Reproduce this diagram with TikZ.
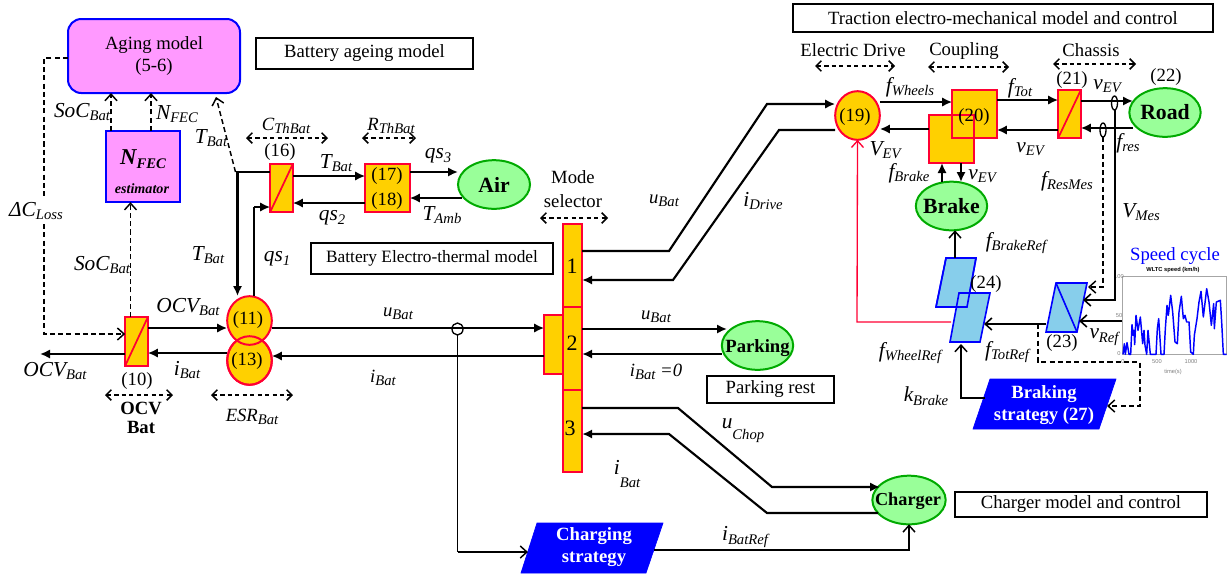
\documentclass[tikz,border=0pt]{standalone}
\usepackage{fontspec}
\setmainfont{Liberation Serif}
\newfontfamily\plotfont{Liberation Sans}
\usetikzlibrary{arrows.meta,shapes.geometric}
\definecolor{gold}{HTML}{FFD000}
\definecolor{redl}{HTML}{FF0033}
\definecolor{pinkf}{HTML}{FF99FF}
\definecolor{greenf}{HTML}{99FF99}
\definecolor{greenl}{HTML}{00AA00}
\definecolor{skyf}{HTML}{87CEEB}
\newcommand{\lb}[2]{\textit{#1\raisebox{-.35ex}{\fontsize{11}{12}\selectfont #2}}}
\tikzset{
 tx/.style={inner sep=0,font=\fontsize{14}{16}\selectfont},
 lab/.style={inner sep=0,font=\fontsize{16}{18}\selectfont},
 labs/.style={inner sep=0,font=\fontsize{14}{16}\selectfont},
 bld/.style={inner sep=0,font=\fontsize{15}{17}\selectfont\bfseries},
 tbox/.style={draw=black,line width=1.2pt,fill=white,inner sep=0,font=\fontsize{14}{16}\selectfont},
 ybox/.style={draw=redl,fill=gold,line width=1.5pt,inner sep=0,outer sep=0},
 yell/.style={ellipse,draw=redl,fill=gold,line width=1.5pt,inner sep=0,outer sep=0},
 gell/.style={ellipse,draw=greenl,fill=greenf,line width=1.5pt,inner sep=0,outer sep=0},
 gtxt/.style={inner sep=0,font=\fontsize{16.3}{18}\selectfont\bfseries},
 pbox/.style={draw=blue,fill=pinkf,line width=1.5pt,inner sep=0,outer sep=0},
 sky/.style={draw=blue,fill=skyf,line width=1.2pt,line join=miter},
 strat/.style={fill=blue,draw=blue,line width=.5pt},
 stratt/.style={inner sep=0,text=white,align=center,font=\fontsize{14}{17}\selectfont\bfseries},
 main/.style={line width=1.6pt,-{Latex[length=7.5pt,width=7pt]}},
 plain/.style={line width=1.6pt},
 thin/.style={line width=1.1pt,-{Straight Barb[length=5pt,width=9pt]}},
 dsh/.style={line width=1.1pt,dash pattern=on 3.8pt off 2.4pt,-{Straight Barb[length=5pt,width=9pt]}},
 dbl/.style={line width=1.1pt,dash pattern=on 3.2pt off 2.4pt,{Straight Barb[length=4pt,width=8pt]}-{Straight Barb[length=4pt,width=8pt]}},
}
\begin{document}
\begin{tikzpicture}[x=.75pt,y=-.75pt]
\useasboundingbox (0,0) rectangle (1227,576);
% --- ageing
\node[pbox,rounded corners=10pt,minimum width=129pt,minimum height=55.5pt,align=center,font=\fontsize{14}{16.5}\selectfont] (aging) at (154,56) {Aging model\\(5-6)};
\node[pbox,minimum width=55.5pt,minimum height=53.5pt] (nfec) at (143,166.5) {};
\node[inner sep=0,font=\fontsize{17}{19}\selectfont] (nfect) at (143,159) {\textbf{\textit{N\raisebox{-.35ex}{\fontsize{11}{12}\selectfont FEC}}}};
\node[inner sep=0,font=\fontsize{10.6}{12}\selectfont] (nfecs) at (142,188.5) {\textbf{\textit{estimator}}};
\node[tbox,minimum width=163pt,minimum height=23pt] (tb1) at (364.5,53.5) {Battery ageing model};
\node[tbox,minimum width=181.5pt,minimum height=23pt,font=\fontsize{13}{15}\selectfont] (tb2) at (432,258.5) {Battery Electro-thermal model};
\node[tbox,minimum width=95pt,minimum height=20pt] (tb3) at (770.5,389.5) {Parking rest};
\node[tbox,minimum width=315pt,minimum height=21pt] (tb4) at (1003,18) {Traction electro-mechanical model and control};
\node[tbox,minimum width=189pt,minimum height=19pt] (tb5) at (1081,504.5) {Charger model and control};
% --- battery converters
\node[ybox,minimum width=17pt,minimum height=36.5pt] (c10) at (136.5,341.5) {};
\draw[redl,line width=1.3pt] (c10.south west) -- (c10.north east);
\node[ybox,minimum width=17pt,minimum height=36pt] (c16) at (281.5,188) {};
\draw[redl,line width=1.3pt] (c16.south west) -- (c16.north east);
\node[ybox,minimum width=33.5pt,minimum height=36pt] (c17) at (387.5,188) {};
\node[yell,minimum width=33.5pt,minimum height=36.5pt] (e13) at (249.5,360.5) {};
\node[yell,minimum width=33.5pt,minimum height=36.5pt] (e11) at (249.5,320.5) {};
\draw[redl,line width=1.5pt] (e13) ellipse [x radius=22.3,y radius=24.3];
% --- greens
\node[gell,minimum width=54pt,minimum height=36.5pt] (air) at (494,184.5) {};
\node[gtxt] (airt) at (494,184.5) {Air};
\node[gell,minimum width=53.5pt,minimum height=36.5pt] (park) at (757.5,345.5) {};
\node[gtxt,font=\fontsize{14}{16}\selectfont\bfseries] (parkt) at (757.5,348) {Parking};
\node[gell,minimum width=53.5pt,minimum height=36.5pt] (road) at (1165,112.5) {};
\node[gtxt] (roadt) at (1165,112.5) {Road};
\node[gell,minimum width=53.5pt,minimum height=36.5pt] (brake) at (951.5,206) {};
\node[gtxt] (braket) at (951.5,206) {Brake};
\node[gell,minimum width=55pt,minimum height=36.5pt] (charger) at (909,500) {};
\node[gtxt,font=\fontsize{13.7}{15}\selectfont\bfseries] (chargert) at (908,501) {Charger};
% --- mode selector
\node[ybox,minimum width=14pt,minimum height=44pt] (side) at (553.5,344.5) {};
\node[ybox,minimum width=14.5pt,minimum height=62pt] (m1) at (572.5,265.5) {};
\node[ybox,minimum width=14.5pt,minimum height=62pt] (m2) at (572.5,348.5) {};
\node[ybox,minimum width=14.5pt,minimum height=62pt] (m3) at (572.5,431) {};
% --- traction
\node[yell,minimum width=33.5pt,minimum height=36.5pt] (e19) at (857.5,115.5) {};
\node[ybox,minimum width=33.5pt,minimum height=36pt] (b20b) at (951.5,139) {};
\node[ybox,minimum width=33.5pt,minimum height=36pt] (b20a) at (974.5,114) {};
\draw[redl,line width=1.5pt] (b20b.south west) rectangle (b20b.north east);
\node[ybox,minimum width=17pt,minimum height=36pt] (c21) at (1069.5,114) {};
\draw[redl,line width=1.3pt] (c21.south west) -- (c21.north east);
% --- parallelograms
\path[sky] (946,258) -- (976,258) -- (967,307) -- (936,307) -- cycle;
\path[sky] (959,293) -- (990,293) -- (980,342) -- (950,342) -- cycle;
\draw[sky,fill=none] (946,258) -- (976,258) -- (967,307) -- (936,307) -- cycle;
\node[inner sep=0,minimum width=22pt,minimum height=36pt] (p24a) at (956,282.5) {};
\node[inner sep=0,minimum width=22pt,minimum height=36pt] (p24b) at (970,317.5) {};
\path[sky] (1056,283) -- (1087,283) -- (1077,332) -- (1046,332) -- cycle;
\draw[blue,line width=1.2pt] (1056,283) -- (1077,332);
\node[inner sep=0,minimum width=22pt,minimum height=36pt] (p23) at (1066.5,307.5) {};
\path[strat] (990,379) -- (1116,379) -- (1099,429) -- (973,429) -- cycle;
\node[stratt] (brk) at (1044,405) {Braking\\strategy (27)};
\path[strat] (537,523) -- (663,523) -- (646,573) -- (521,573) -- cycle;
\node[stratt] (chg) at (594,547) {Charging\\strategy};
% --- speed plot
\node[inner sep=0,text=blue,font=\fontsize{14}{16}\selectfont] (cyc) at (1175,256) {Speed cycle};
\begin{scope}[shift={(1115,262)},xscale=1/3,yscale=1/3]
\draw[gray!70,line width=.5pt] (22,43) rectangle (335,277);
\draw[blue,line width=1.1pt,line join=round] (24,277)--(28,245)--(31,277)--(36,242)--(42,277)--(47,277)--(51,188)--(55,220)--(57,205)--(59,248)--(63,160)--(69,205)--(76,165)--(83,245)--(87,205)--(90,250)--(95,277)--(99,205)--(106,277)--(123,277)--(127,200)--(131,170)--(134,215)--(138,277)--(147,277)--(151,200)--(156,130)--(160,160)--(167,100)--(173,150)--(180,240)--(187,245)--(192,150)--(199,103)--(205,170)--(210,160)--(215,180)--(222,180)--(227,270)--(235,277)--(238,220)--(246,170)--(252,120)--(258,88)--(265,165)--(275,80)--(282,120)--(289,190)--(296,125)--(298,200)--(304,120)--(316,115)--(320,180)--(325,277)--(335,277);
\end{scope}
\node[inner sep=0,font=\plotfont\fontsize{4.3}{5}\selectfont\bfseries] (pt) at (1173,270.5) {WLTC speed (km/h)};
\tikzset{tick/.style={inner sep=0,text=gray,font=\plotfont\fontsize{4.3}{5}\selectfont}}
\node[tick] (y100) at (1119,277) {100};
\node[tick] (y50) at (1119,315.5) {50};
\node[tick] (y0) at (1119,354) {0};
\node[tick] (x0) at (1123,362) {0};
\node[tick] (x500) at (1157,362) {500};
\node[tick] (x1000) at (1191,362) {1000};
\node[tick] (xl) at (1173,372) {time(s)};
% --- connectors: battery
\draw[dsh] (aging.west |- 0,58) -- (44,58) -- (44,334) -- (c10.west |- 0,334);
\draw[dsh] (nfec.north -| 111,0) -- (aging.south -| 111,0);
\draw[dsh] (nfec.north -| 151,0) -- (aging.south -| 151,0);
\draw[dsh] (c10.north -| 130.5,0) -- (nfec.south -| 130.5,0);
\coordinate (tj) at (235.5,172);
\draw[dsh] (tj) -- (216,97);
\draw[plain] (c16.west |- tj) -- (tj);
\draw[main] (237.5,172) -- (237.5,296);
\draw[plain] (254,296) -- (254,207);
\draw[main] (254,207) -- (c16.west |- 0,207);
\draw[main] (c16.east |- 0,176) -- (c17.west |- 0,176);
\draw[main] (c17.west |- 0,203) -- (c16.east |- 0,203);
\draw[main] (c17.east |- 0,172) -- (air.west |- 0,172);
\draw[main] (462,198) -- (c17.east |- 0,198);
\draw[main] (c10.east |- 0,328) -- (e11.west |- 0,328);
\draw[main] (e13.west |- 0,353) -- (c10.east |- 0,353);
\draw[main] (c10.west |- 0,354) -- (40,354);
\draw[main] (e11.east |- 0,328) -- (side.west |- 0,328);
\draw[main] (side.west |- 0,356) -- (e13.east |- 0,356);
\draw[dbl] (246,138) -- (328,138);
\draw[dbl] (362,138) -- (416,138);
\draw[dbl] (105,395) -- (173,395);
\draw[dbl] (211,395) -- (293,395);
\draw[dbl] (540,218) -- (608,218);
\draw[dbl] (815,66) -- (895,66);
\draw[dbl] (928,67) -- (1009,67);
\draw[dbl] (1053,64) -- (1136,64);
% branch to charging strategy
\draw[line width=1pt] (457.5,329) ellipse [x radius=5.5,y radius=6];
\draw[line width=.9pt] (457.5,335) -- (457.5,552);
\draw[thin] (457.5,552) -- (528,552);
\draw[thin] (654,550) -- (909,550) -- (charger.south);
% --- mode selector links
\draw[main] (m2.east |- 0,329) -- (727,329);
\draw[main] (park.west |- 0,354) -- (m2.east |- 0,354);
\draw[main] (m1.east |- 0,251) -- (669,251) -- (767,104) -- (e19.west |- 0,104);
\draw[main] (e19.west |- 0,130) -- (779,130) -- (673,280) -- (m1.east |- 0,280);
\draw[main] (m3.east |- 0,408) -- (678,408) -- (772,487) -- (880,487);
\draw[main] (878,513) -- (767,513) -- (669,434) -- (m3.east |- 0,434);
% --- traction links
\draw[main] (e19.east |- 0,102) -- (b20a.west |- 0,102);
\draw[main] (b20a.east |- 0,100) -- (c21.west |- 0,100);
\draw[main] (c21.west |- 0,130) -- (b20a.east |- 0,130);
\draw[main] (b20b.west |- 0,129) -- (e19.east |- 0,129);
\draw[main] (c21.east |- 0,101) -- (1133,101);
\draw[main] (1133,128) -- (c21.east |- 0,128);
\draw[main] (942,182) -- (b20b.south -| 942,0);
\draw[main] (b20b.south -| 961,0) -- (961,182);
\draw[line width=1pt] (1114.5,103) ellipse [x radius=3,y radius=7];
\draw[line width=1pt] (1103,130) ellipse [x radius=3,y radius=7];
\draw[dsh] (1103,137) -- (1103,287) -- (1088,287);
\draw[line width=1.2pt,-{Straight Barb[length=5pt,width=9pt]}] (1115,110) -- (1115,300) -- (1083,300);
\draw[line width=1.2pt,-{Straight Barb[length=5pt,width=9pt]}] (1122,321) -- (1079,321);
\draw[line width=1.2pt,-{Straight Barb[length=5pt,width=9pt]}] (1046,324) -- (984,324);
\draw[dsh] (1038,324) -- (1038,362) -- (1140,362) -- (1140,406) -- (1107,406);
\draw[redl,line width=1pt,-{Straight Barb[length=5pt,width=9pt]}] (951,322) -- (857,322) -- (e19.south);
\draw[thin] (955,258) -- (brake.south -| 955,0);
\draw[thin] (985,398) -- (961,398) -- (961,344);
% --- text
\node[tx] (n10) at (137,381) {(10)};
\node[tx] (n11) at (248,320) {(11)};
\node[tx] (n13) at (247,361) {(13)};
\node[tx] (n16) at (280,152) {(16)};
\node[tx] (n17) at (387,176) {(17)};
\node[tx] (n18) at (387,201) {(18)};
\node[tx] (n19) at (855,117) {(19)};
\node[tx] (n20) at (974,117) {(20)};
\node[tx] (n21) at (1072,80) {(21)};
\node[tx] (n22) at (1166,77) {(22)};
\node[tx] (n23) at (1062,343) {(23)};
\node[tx] (n24) at (986,284) {(24)};
\node[tx,font=\fontsize{16.5}{18}\selectfont] (s1) at (572,266) {1};
\node[tx,font=\fontsize{16.5}{18}\selectfont] (s2) at (572,343) {2};
\node[tx,font=\fontsize{16.5}{18}\selectfont] (s3) at (570,428) {3};
\node[tx,align=center,font=\fontsize{14}{18}\selectfont] (msel) at (573,189) {Mode\\selector};
\node[tx] (ed) at (853,50) {Electric Drive};
\node[tx] (cp) at (964,51) {Coupling};
\node[tx] (ch) at (1091,50) {Chassis};
\node[bld,align=center,font=\fontsize{14}{14.5}\selectfont\bfseries] (ocvb) at (141,418) {OCV\\Bat};
\node[lab] (l1) at (82,112) {\lb{SoC}{Bat}};
\node[lab] (l2) at (177,114) {\lb{N}{FEC}};
\node[lab] (l3) at (211,138) {\lb{T}{Bat}};
\node[labs] (l4) at (286,126) {\lb{C}{ThBat}};
\node[labs] (l5) at (391,126) {\lb{R}{ThBat}};
\node[lab] (l6) at (336,163) {\lb{T}{Bat}};
\node[lab] (l7) at (332,218) {\lb{qs}{2}};
\node[lab] (l8) at (438,156) {\lb{qs}{3}};
\node[lab] (l9) at (442,215) {\lb{T}{Amb}};
\node[lab,fill=white,inner ysep=3pt] (l10) at (36,211) {\lb{ΔC}{Loss}};
\node[lab] (l11) at (102,265) {\lb{SoC}{Bat}};
\node[lab] (l12) at (208,255) {\lb{T}{Bat}};
\node[lab] (l13) at (277,259) {\lb{qs}{1}};
\node[lab] (l14) at (188,307) {\lb{OCV}{Bat}};
\node[lab] (l15) at (55,371) {\lb{OCV}{Bat}};
\node[lab] (l16) at (187,370) {\lb{i}{Bat}};
\node[labs] (l17) at (252,417) {\lb{ESR}{Bat}};
\node[labs] (l18) at (398,314) {\lb{u}{Bat}};
\node[labs] (l19) at (383,378) {\lb{i}{Bat}};
\node[labs] (l20) at (664,201) {\lb{u}{Bat}};
\node[lab] (l21) at (763,201) {\lb{i}{Drive}};
\node[labs] (l22) at (656,317) {\lb{u}{Bat}};
\node[labs] (l23) at (656,372) {\lb{i}{Bat} \textit{=0}};
\node[lab] (l24) at (743,431) {\textit{u\raisebox{-1.1ex}{\fontsize{11}{12}\selectfont Chop}}};
\node[lab] (l25) at (627,474) {\textit{i\raisebox{-1.4ex}{\fontsize{11}{12}\selectfont Bat}}};
\node[lab] (l26) at (745,537) {\lb{i}{BatRef}};
\node[lab] (l27) at (910,87) {\lb{f}{Wheels}};
\node[lab] (l28) at (1020,88) {\lb{f}{Tot}};
\node[lab] (l29) at (1107,86) {\lb{v}{EV}};
\node[lab] (l30) at (885,150) {\lb{V}{EV}};
\node[lab] (l31) at (1030,149) {\lb{v}{EV}};
\node[lab] (l32) at (1128,143) {\lb{f}{res}};
\node[lab] (l33) at (909,173) {\lb{f}{Brake}};
\node[lab] (l34) at (982,176) {\lb{v}{EV}};
\node[lab] (l35) at (1067,181) {\lb{f}{ResMes}};
\node[lab] (l36) at (1141,212) {\lb{V}{Mes}};
\node[lab] (l37) at (1016,243) {\lb{f}{BrakeRef}};
\node[lab] (l38) at (1104,337) {\lb{v}{Ref}};
\node[lab] (l39) at (910,353) {\lb{f}{WheelRef}};
\node[lab] (l40) at (1007,352) {\lb{f}{TotRef}};
\node[lab] (l41) at (926,396) {\lb{k}{Brake}};
\end{tikzpicture}
\end{document}
